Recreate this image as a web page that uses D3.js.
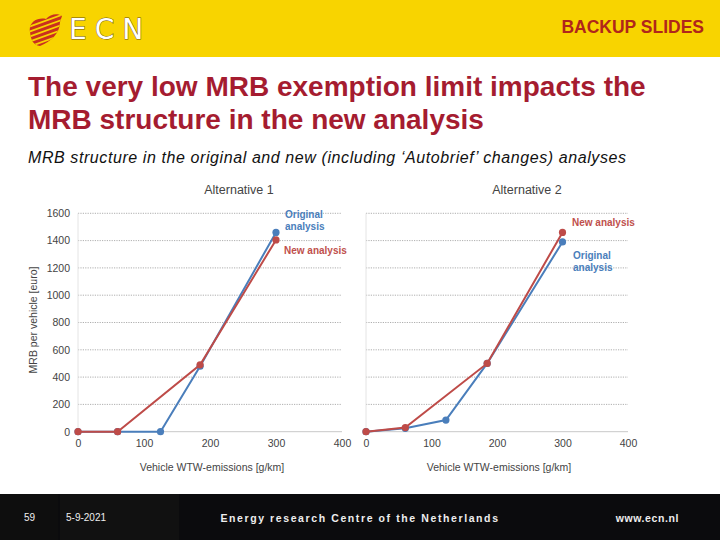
<!DOCTYPE html>
<html><head><meta charset="utf-8">
<script src="https://cdn.jsdelivr.net/npm/d3@7"></script>
<style>
html,body{margin:0;padding:0;background:#fff;}
svg{display:block;}
</style></head>
<body>
<svg id="c" width="720" height="540"></svg>
<script>
// ---- data ----
const xTicks = [0, 100, 200, 300, 400];
const yTicks = [0, 200, 400, 600, 800, 1000, 1200, 1400, 1600];
const alt1Original = [[0,0],[60,0],[125,0],[185,480],[300,1460]];
const alt1New      = [[0,0],[60,0],[185,490],[300,1405]];
const alt2Original = [[0,0],[60,25],[122,85],[185,500],[300,1390]];
const alt2New      = [[0,0],[60,30],[185,500],[300,1460]];
const chartTitles = ["Alternative 1", "Alternative 2"];
const xTitle = "Vehicle WTW-emissions [g/km]";
const yTitle = "MRB per vehicle [euro]";

const BLUE = "#4a7ebb", RED = "#be4b48";
const ff = "Liberation Sans, Arial, sans-serif";
const svg = d3.select("#c");

// header
svg.append("rect").attr("x",0).attr("y",0).attr("width",720).attr("height",57).attr("fill","#f8d400");
// logo
const logo = svg.append("g");
const defs = svg.append("defs");
defs.append("clipPath").attr("id","lg").append("path")
  .attr("d","M30,32 C28,22 38,17 46,19 C50,14 58,13 62,16 L60,22 C60,34 50,42 40,46 C33,45 31,40 30,32 Z");
const lg = logo.append("g").attr("clip-path","url(#lg)");
lg.append("rect").attr("x",26).attr("y",10).attr("width",40).attr("height",40).attr("fill","#c9301f");
for (let i=0;i<7;i++){
  lg.append("line").attr("x1",20).attr("y1",30+i*5).attr("x2",70).attr("y2",12+i*5)
    .attr("stroke","#f8d400").attr("stroke-width",1.8);
}
logo.append("text").attr("x",69).attr("y",39).attr("font-family","DejaVu Sans, sans-serif")
  .attr("font-size",28).attr("font-weight","normal").attr("letter-spacing",8)
  .attr("fill","#ffffff").attr("stroke","#6e5410").attr("stroke-width",0.9)
  .attr("paint-order","stroke").text("ECN");
svg.append("text").attr("x",704).attr("y",33).attr("text-anchor","end")
  .attr("font-family",ff).attr("font-size",17.5).attr("font-weight","bold")
  .attr("fill","#b0261b").text("BACKUP SLIDES");

// title
const tt = svg.append("text").attr("font-family",ff)
  .attr("font-size",28).attr("font-weight","bold").attr("fill","#a51c30");
tt.append("tspan").attr("x",28).attr("y",96).text("The very low MRB exemption limit impacts the");
tt.append("tspan").attr("x",28).attr("y",129).text("MRB structure in the new analysis");
svg.append("text").attr("x",28).attr("y",163).attr("font-family",ff)
  .attr("font-size",16).attr("font-style","italic").attr("fill","#111")
  .attr("textLength",598).attr("lengthAdjust","spacing")
  .text("MRB structure in the original and new (including \u2018Autobrief\u2019 changes) analyses");

// charts
const y = d3.scaleLinear().domain([0,1600]).range([431.7,213.3]);
function chart(x0, x1, orig, neu, title, titleX, showY) {
  const x = d3.scaleLinear().domain([0,400]).range([x0,x1]);
  const g = svg.append("g");
  g.selectAll("line.grid").data(yTicks.filter(d=>d>0)).join("line")
    .attr("x1",x0).attr("x2",x1).attr("y1",d=>y(d)).attr("y2",d=>y(d))
    .attr("stroke","#9a9a9a").attr("stroke-width",0.8).attr("stroke-dasharray","1.2,1.2");
  g.append("line").attr("x1",x0).attr("x2",x1).attr("y1",y(0)).attr("y2",y(0))
    .attr("stroke","#c8c8c8").attr("stroke-width",1);
  g.append("line").attr("x1",x0).attr("x2",x0).attr("y1",y(0)).attr("y2",y(1600))
    .attr("stroke","#e4e4e4").attr("stroke-width",1);
  const xa = g.append("g").attr("transform",`translate(0,${y(0)+8})`)
    .call(d3.axisBottom(x).tickValues(xTicks).tickSize(0).tickPadding(0).tickFormat(d3.format("d")));
  xa.select(".domain").remove();
  xa.selectAll("text").attr("font-family",ff).attr("font-size",10.5).attr("fill","#444");
  if (showY) {
    const ya = g.append("g").attr("transform",`translate(${x0-8},0)`)
      .call(d3.axisLeft(y).tickValues(yTicks).tickSize(0).tickPadding(0).tickFormat(d3.format("d")));
    ya.select(".domain").remove();
    ya.selectAll("text").attr("font-family",ff).attr("font-size",10.5).attr("fill","#444");
  }
  g.append("text").attr("x",titleX).attr("y",194).attr("text-anchor","middle")
    .attr("font-family",ff).attr("font-size",12.5).attr("fill","#444").text(title);
  g.append("text").attr("x",(x0+x1)/2+2).attr("y",471).attr("text-anchor","middle")
    .attr("font-family",ff).attr("font-size",10.5).attr("fill","#444").text(xTitle);
  const line = d3.line().x(d=>x(d[0])).y(d=>y(d[1]));
  [[orig,BLUE],[neu,RED]].forEach(([data,col])=>{
    g.append("path").datum(data).attr("d",line).attr("fill","none").attr("stroke",col).attr("stroke-width",2);
    g.selectAll(null).data(data).join("circle").attr("cx",d=>x(d[0])).attr("cy",d=>y(d[1]))
      .attr("r",3.6).attr("fill",col);
  });
}
chart(78, 342, alt1Original, alt1New, chartTitles[0], 239, true);
chart(366, 628, alt2Original, alt2New, chartTitles[1], 527, false);

// y title
svg.append("text").attr("transform","translate(37,320) rotate(-90)").attr("text-anchor","middle")
  .attr("font-family",ff).attr("font-size",10.5).attr("fill","#444").text(yTitle);

// series labels
function lab(xp, yp, lines, col){
  const t = svg.append("text").attr("font-family",ff).attr("font-size",10)
    .attr("font-weight","bold").attr("fill",col);
  lines.forEach((s,i)=>t.append("tspan").attr("x",xp).attr("y",yp+i*12).text(s));
}
lab(285, 218, ["Original","analysis"], BLUE);
lab(284, 254, ["New analysis"], "#c0504d");
lab(572, 226, ["New analysis"], "#c0504d");
lab(573, 259, ["Original","analysis"], BLUE);

// footer
svg.append("rect").attr("x",0).attr("y",494).attr("width",720).attr("height",46).attr("fill","#0b0b0d");
svg.append("rect").attr("x",0).attr("y",494).attr("width",58).attr("height",46).attr("fill","#0e0e0e");
svg.append("rect").attr("x",60).attr("y",494).attr("width",119).attr("height",46).attr("fill","#111111");
svg.append("text").attr("x",24).attr("y",521).attr("font-family",ff).attr("font-size",10).attr("fill","#eee").text("59");
svg.append("text").attr("x",66).attr("y",521).attr("font-family",ff).attr("font-size",10).attr("fill","#eee").text("5-9-2021");
svg.append("text").attr("x",360).attr("y",522).attr("text-anchor","middle").attr("font-family",ff)
  .attr("font-size",10.5).attr("font-weight","bold").attr("letter-spacing",1.6).attr("fill","#eee")
  .text("Energy research Centre of the Netherlands");
svg.append("text").attr("x",679).attr("y",522).attr("text-anchor","end").attr("font-family",ff)
  .attr("font-size",10.5).attr("font-weight","bold").attr("letter-spacing",0.6).attr("fill","#eee").text("www.ecn.nl");
</script>
</body></html>
